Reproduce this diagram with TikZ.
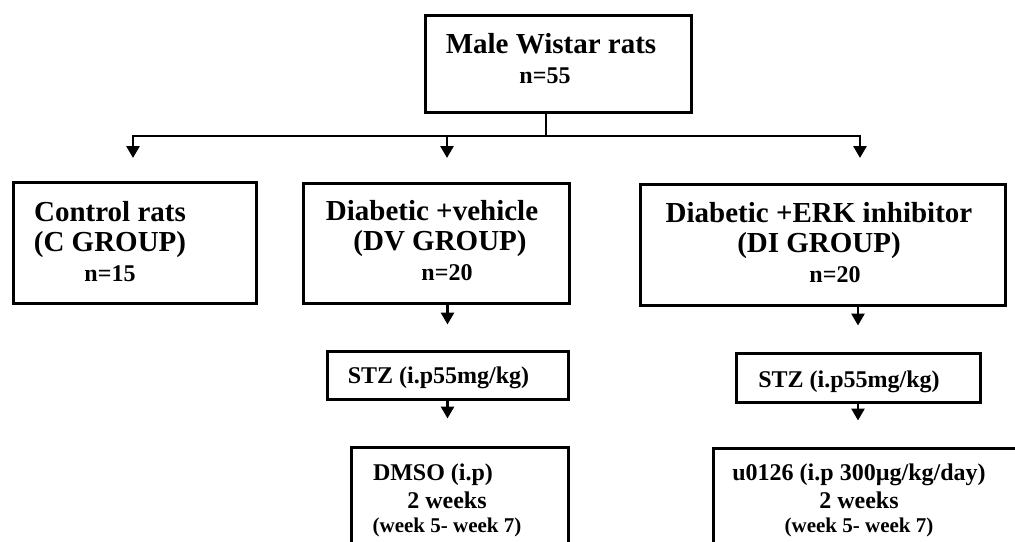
\documentclass[tikz,border=0pt]{standalone}
\usepackage{fontspec}
\setmainfont{Liberation Serif}
\usetikzlibrary{arrows.meta,positioning}

\begin{document}
\begin{tikzpicture}[
  x=1pt, y=-1pt,
  >={Triangle[width=13pt,length=12pt]},
  box/.style={draw, line width=3pt, inner sep=0pt},
  txt/.style={font=\bfseries\fontsize{29}{30}\selectfont, align=center, inner sep=0pt, anchor=base},
  midtxt/.style={font=\bfseries\fontsize{24}{28}\selectfont, align=center, inner sep=0pt, anchor=base},
  conn/.style={line width=2.8pt}
]
\useasboundingbox (0,0) rectangle (1015,541);
\clip (0,0) rectangle (1015,541);

% Ligne du haut
\node[box, minimum width=266, minimum height=97] (rats) at (558,63.5) {};
\node[txt] (ratstxt) at (551,83) {Male Wistar rats\\{\fontsize{24}{30}\selectfont n=55\hspace*{12pt}}};

% Groupes
\node[box, minimum width=243, minimum height=121] (ctrl) at (134.5,242.5) {};
\node[txt] (ctrltxt) at (110,281) {Control rats\\(C GROUP)\\{\fontsize{24}{30}\selectfont n=15}};
\node[box, minimum width=266, minimum height=120] (dv) at (436,243) {};
\node[txt] (dvtxt) at (440,280) {Diabetic +vehicle\hspace*{16pt}\\(DV GROUP)\\{\fontsize{24}{30}\selectfont\hspace*{14pt}n=20}};
\node[box, minimum width=365, minimum height=121] (di) at (822.5,244.5) {};
\node[txt] (ditxt) at (819,282) {Diabetic +ERK inhibitor\\(DI GROUP)\\{\fontsize{24}{30}\selectfont\hspace*{32pt}n=20}};

% Traitements
\node[box, minimum width=241, minimum height=48] (dvstz) at (447.5,375) {};
\node[midtxt] (dvstztxt) at (438.5,383) {STZ (i.p55mg/kg)};
\node[box, minimum width=244, minimum height=49] (distz) at (858,377.5) {};
\node[midtxt] (distztxt) at (849,387) {STZ (i.p55mg/kg)};
\node[box, minimum width=217, minimum height=153] (dmso) at (459.5,523.5) {};
\node[midtxt] (dmsotxt) at (447,532) {DMSO (i.p)\hspace*{28pt}\\2 weeks\\[-4pt]{\fontsize{21}{24}\selectfont (week 5- week 7)}};
\node[box, minimum width=327, minimum height=152] (erki) at (876.5,524) {};
\node[midtxt] (erkitxt) at (859,532) {u0126 (i.p 300µg/kg/day)\\2 weeks\hspace*{16pt}\\[-4pt]{\fontsize{21}{24}\selectfont (week 5- week 7)}};

% Fleches
\coordinate (split) at (546,136);
\coordinate (toC) at (133,158);
\coordinate (toDV) at (447,158);
\coordinate (toDI) at (860,158);
\draw[conn] (rats.south -| split) -- (split);
\draw[conn, ->] (split) -| (toC);
\draw[conn, ->] (split) -| (toDI);
\draw[conn, ->] (split -| toDV) -- (toDV);
\draw[conn, ->, shorten >=25pt] (dv.south -| dvstz) -- (dvstz.north);
\draw[conn, ->, shorten >=27pt] (dvstz.south) -- (dvstz.south |- dmso.north);
\draw[conn, ->, shorten >=26pt] (di.south -| distz) -- (distz.north);
\draw[conn, ->, shorten >=26pt] (distz.south) -- (distz.south |- erki.north);

\end{tikzpicture}
\end{document}
